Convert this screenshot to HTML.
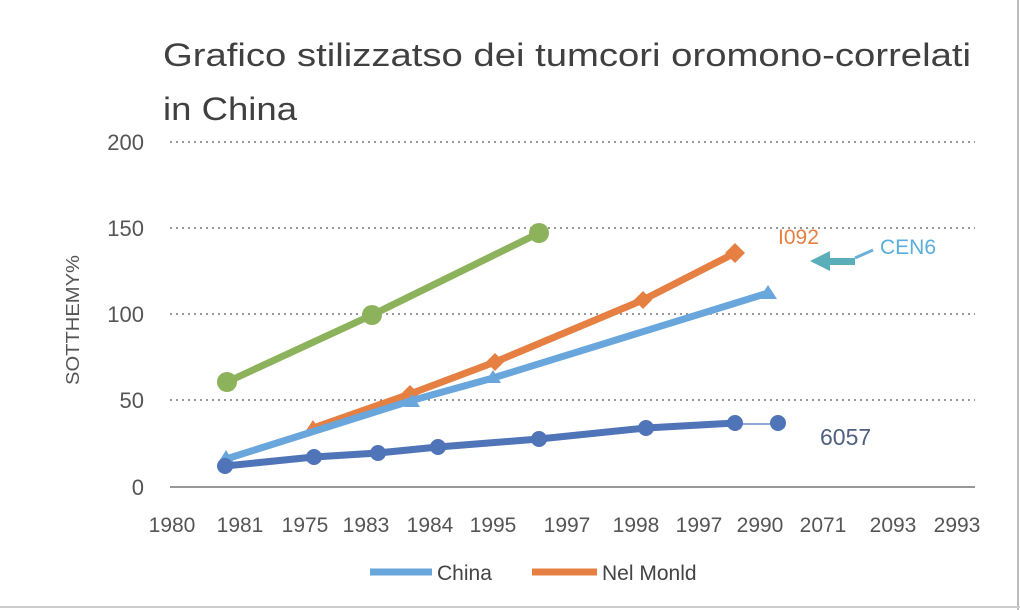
<!DOCTYPE html>
<html><head><meta charset="utf-8"><style>
body{margin:0;background:#fff;}
svg{display:block;font-family:"Liberation Sans",sans-serif;}
</style></head><body>
<svg width="1020" height="610" viewBox="0 0 1020 610">
<rect width="1020" height="610" fill="#fff"/>
<line x1="1018" y1="0" x2="1018" y2="610" stroke="#bbb" stroke-width="2"/>
<line x1="0" y1="607" x2="1020" y2="607" stroke="#ccc" stroke-width="2"/>
<text x="163" y="66" font-size="32" fill="#404040" textLength="808" lengthAdjust="spacingAndGlyphs">Grafico stilizzatso dei tumcori oromono-correlati</text>
<text x="163" y="120" font-size="32" fill="#404040" textLength="134" lengthAdjust="spacingAndGlyphs">in China</text>
<g stroke="#777" stroke-width="1.5" stroke-dasharray="2,4">
<line x1="170" y1="142" x2="975" y2="142"/>
<line x1="170" y1="228" x2="975" y2="228"/>
<line x1="170" y1="314" x2="975" y2="314"/>
<line x1="170" y1="400" x2="975" y2="400"/>
</g>
<line x1="170" y1="487" x2="975" y2="487" stroke="#777" stroke-width="1.5"/>
<g font-size="22" fill="#555" text-anchor="end">
<text x="144" y="150">200</text><text x="144" y="236">150</text><text x="144" y="322">100</text><text x="144" y="408">50</text><text x="144" y="495">0</text>
</g>
<text transform="translate(79,320) rotate(-90)" font-size="18" fill="#555" text-anchor="middle" textLength="130" lengthAdjust="spacingAndGlyphs">SOTTHEMY%</text>
<g font-size="21" fill="#555" text-anchor="middle">
<text x="172" y="532">1980</text><text x="240" y="532">1981</text><text x="305" y="532">1975</text><text x="366" y="532">1983</text><text x="430" y="532">1984</text><text x="493" y="532">1995</text><text x="567" y="532">1997</text><text x="636" y="532">1998</text><text x="699" y="532">1997</text><text x="760" y="532">2990</text><text x="823" y="532">2071</text><text x="893" y="532">2093</text><text x="957" y="532">2993</text>
</g>
<polyline points="227,382 372,315 539,233" fill="none" stroke="#8cb35c" stroke-width="7"/>
<g fill="#8cb35c"><circle cx="227" cy="382" r="10"/><circle cx="372" cy="315" r="10"/><circle cx="539" cy="233" r="10"/></g>
<polyline points="313,428 410,394 495,362 643,300 735,253" fill="none" stroke="#e57f42" stroke-width="7"/>
<g fill="#e57f42"><polygon points="313,420 321,432 305,432"/><polygon points="410,385 419,394 410,403 401,394"/><polygon points="495,353 504,362 495,371 486,362"/><polygon points="643,291 652,300 643,309 634,300"/><polygon points="735,243 745,253 735,263 725,253"/></g>
<polyline points="226,459 410,401 493,378 768,293" fill="none" stroke="#69a6dc" stroke-width="7"/>
<g fill="#69a6dc"><polygon points="226,450 234,463 218,463"/><polygon points="412,394 420,407 404,407"/><polygon points="493,370 501,383 485,383"/><polygon points="768,285 777,299 759,299"/></g>
<polyline points="225,466 314,457 378,453 438,447 539,439 646,428 735,423" fill="none" stroke="#4f74b8" stroke-width="7"/>
<line x1="735" y1="424" x2="778" y2="424" stroke="#6b8cc8" stroke-width="1.5"/>
<g fill="#4f74b8"><circle cx="225" cy="466" r="8"/><circle cx="314" cy="457" r="8"/><circle cx="378" cy="453" r="8"/><circle cx="438" cy="447" r="8"/><circle cx="539" cy="439" r="8"/><circle cx="646" cy="428" r="8"/><circle cx="735" cy="423" r="8"/><circle cx="778" cy="423" r="8"/></g>
<text x="778" y="244" font-size="21" fill="#e57f42">I092</text>
<text x="880" y="254" font-size="21" fill="#5aaedb">CEN6</text>
<line x1="855" y1="258" x2="873" y2="250" stroke="#6ab0d8" stroke-width="3"/>
<polygon points="810,261 830,251 830,258 855,258 855,265 830,265 830,271" fill="#5aaeba"/>
<text x="820" y="445" font-size="23" fill="#4f6080">6057</text>
<line x1="370" y1="572" x2="432" y2="572" stroke="#69a6dc" stroke-width="7"/>
<text x="437" y="580" font-size="21" fill="#444">China</text>
<line x1="532" y1="572" x2="597" y2="572" stroke="#e57f42" stroke-width="7"/>
<text x="602" y="580" font-size="21" fill="#444">Nel Monld</text>
</svg>
</body></html>
